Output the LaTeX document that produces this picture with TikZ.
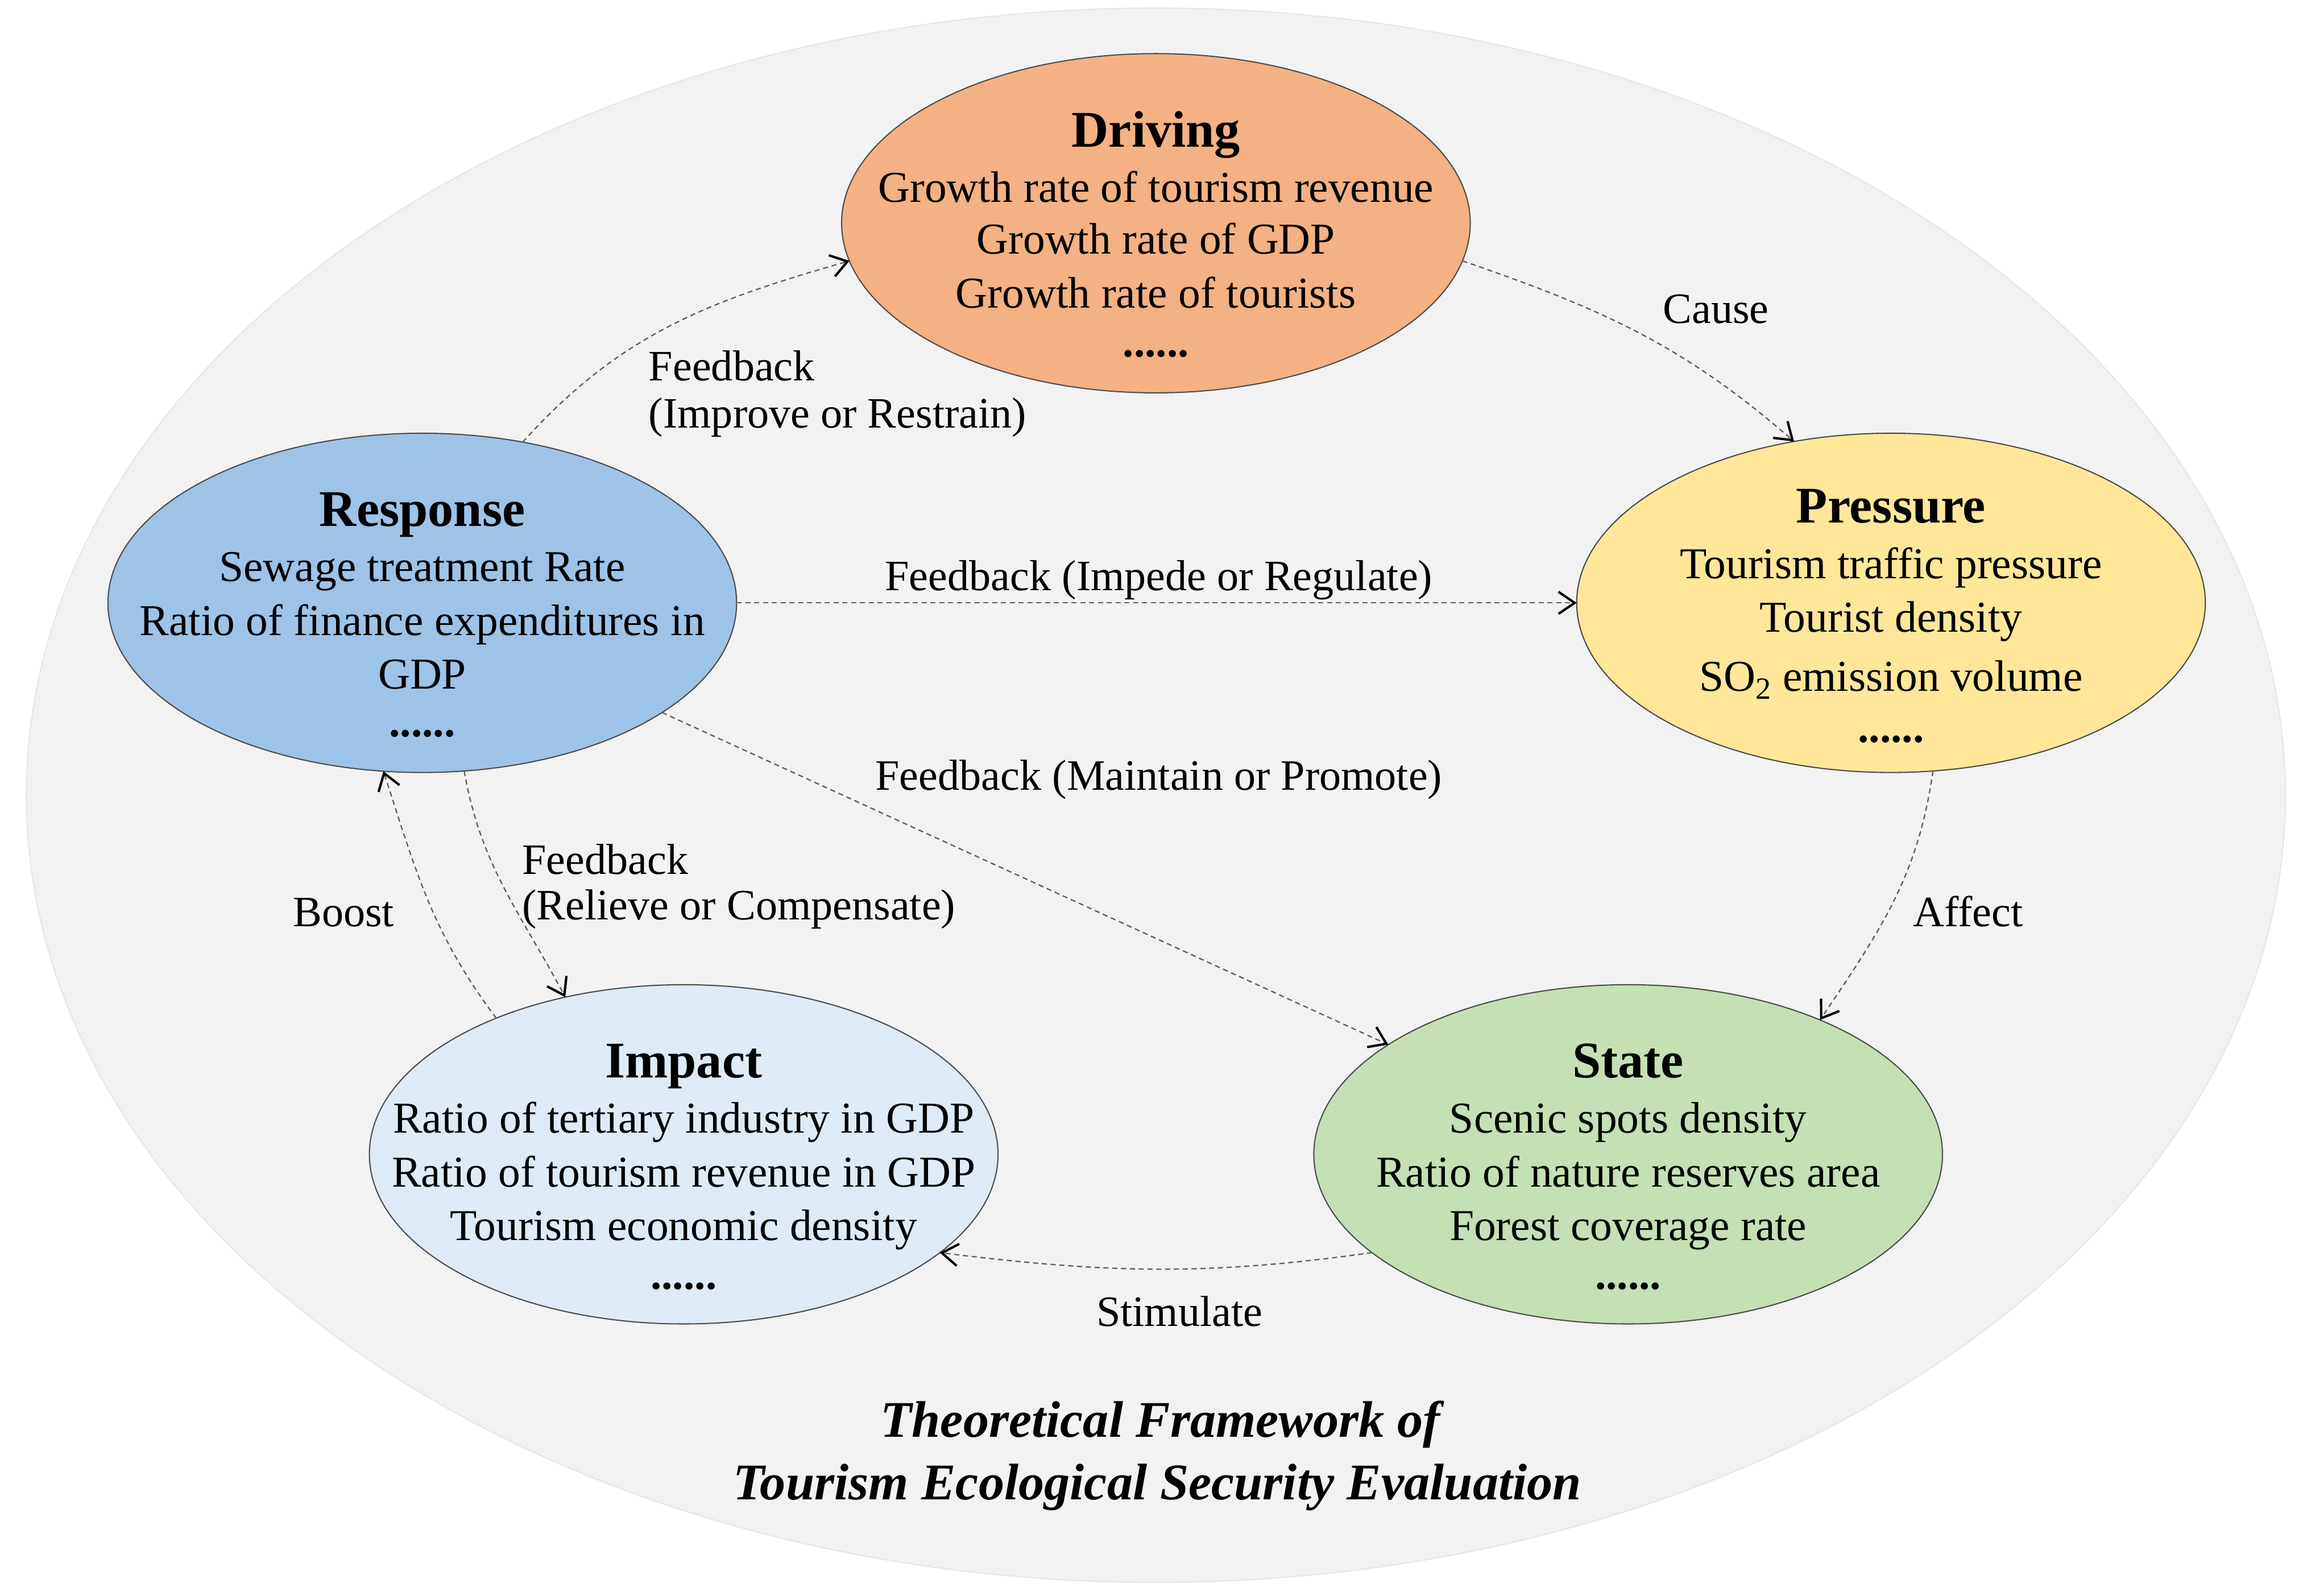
\documentclass[tikz,border=0pt]{standalone}
\usepackage{fontspec}
\setmainfont{Liberation Serif}
\usetikzlibrary{arrows.meta,shapes.geometric}
\definecolor{bgfill}{RGB}{242,242,242}
\definecolor{bgline}{RGB}{230,230,230}
\definecolor{drvfill}{RGB}{244,177,131}
\definecolor{resfill}{RGB}{157,195,230}
\definecolor{prsfill}{RGB}{255,230,153}
\definecolor{impfill}{RGB}{222,235,247}
\definecolor{stafill}{RGB}{197,224,180}
\begin{document}
\begin{tikzpicture}[x=1pt,y=-1pt,
  oval/.style={ellipse, draw=black!70, line width=0.8pt, minimum width=428pt, minimum height=231pt, inner sep=0pt, outer sep=0pt},
  head/.style={anchor=base, inner sep=0pt, font=\fontsize{35}{42}\selectfont\bfseries},
  item/.style={anchor=base, inner sep=0pt, font=\fontsize{30}{36}\selectfont},
  dots/.style={anchor=base, inner sep=0pt, font=\fontsize{30}{36}\selectfont\bfseries},
  lbl/.style={inner sep=0pt, font=\fontsize{29.5}{32}\selectfont},
  ttl/.style={anchor=base, inner sep=0pt, font=\fontsize{35}{42}\selectfont\bfseries\itshape},
  flow/.style={draw=black!62, line width=0.9pt, dash pattern=on 3.5pt off 2.5pt,
    -{Straight Barb[length=11pt,width=15pt,line width=1.6pt,color=black]}}]
\useasboundingbox (0,0) rectangle (1568,1086.4);
\fill[white] (0,0) rectangle (1568,1086.4);
% frame
\node[ellipse, fill=bgfill, draw=bgline, line width=0.8pt, minimum width=1538pt, minimum height=1072pt, inner sep=0pt] (frame) at (787,541.5) {};
% ellipses
\node[oval, fill=drvfill] (drv) at (787,152) {};
\node[oval, fill=resfill] (res) at (287.5,410.5) {};
\node[oval, fill=prsfill] (prs) at (1287.5,410.5) {};
\node[oval, fill=impfill] (imp) at (465.5,786) {};
\node[oval, fill=stafill] (sta) at (1108.5,786) {};
% Driving
\node[head] (drv-h) at (787,100) {Driving};
\node[item] (drv-1) at (787,137.5) {Growth rate of tourism revenue};
\node[item] (drv-2) at (787,173) {Growth rate of GDP};
\node[item] (drv-3) at (787,209.5) {Growth rate of tourists};
\node[dots] (drv-d) at (787,243) {......};
% Response
\node[head] (res-h) at (287.5,358.5) {Response};
\node[item] (res-1) at (287.5,396) {Sewage treatment Rate};
\node[item] (res-2) at (287.5,432.5) {Ratio of finance expenditures in};
\node[item] (res-3) at (287.5,469) {GDP};
\node[dots] (res-d) at (287.5,501.5) {......};
% Pressure
\node[head] (prs-h) at (1287.5,356) {Pressure};
\node[item] (prs-1) at (1287.5,394) {Tourism traffic pressure};
\node[item] (prs-2) at (1287.5,430.5) {Tourist density};
\node[item] (prs-3) at (1287.5,470.5) {SO\textsubscript{2} emission volume};
\node[dots] (prs-d) at (1287.5,505.5) {......};
% Impact
\node[head] (imp-h) at (465.5,734) {Impact};
\node[item] (imp-1) at (465.5,771.5) {Ratio of tertiary industry in GDP};
\node[item] (imp-2) at (465.5,808) {Ratio of tourism revenue in GDP};
\node[item] (imp-3) at (465.5,844.5) {Tourism economic density};
\node[dots] (imp-d) at (465.5,878) {......};
% State
\node[head] (sta-h) at (1108.5,734) {State};
\node[item] (sta-1) at (1108.5,771.5) {Scenic spots density};
\node[item] (sta-2) at (1108.5,808) {Ratio of nature reserves area};
\node[item] (sta-3) at (1108.5,844.5) {Forest coverage rate};
\node[dots] (sta-d) at (1108.5,878) {......};
% connectors
\draw[flow] (res.58.8) to[out=48,in=196] (drv.187);
\draw[flow] (drv.-7) to[out=-19,in=139] (prs.121.5);
\draw[flow] (res.east) -- (prs.west);
\draw[flow] (res) -- (sta);
\draw[flow] (prs.-76.7) to[out=-98,in=56] (sta.35.3);
\draw[flow] (res.-76.3) to[out=-80,in=118] (imp.127.2);
\draw[flow] (imp.144.9) to[out=127,in=-72] (res.-103);
\draw[flow] (sta.201.5) to[out=188,in=-7] (imp.-21.3);
% labels
\node[lbl, anchor=base west] (l-imp1) at (441.5,259.3) {Feedback};
\node[lbl, anchor=base west] (l-imp2) at (441.5,291.5) {(Improve or Restrain)};
\node[lbl, anchor=base west] (l-cause) at (1132,220) {Cause};
\node[lbl, anchor=base] (l-reg) at (789,402) {Feedback (Impede or Regulate)};
\node[lbl, anchor=base] (l-pro) at (789,538) {Feedback (Maintain or Promote)};
\node[lbl, anchor=base west] (l-rel1) at (355.4,595.4) {Feedback};
\node[lbl, anchor=base west] (l-rel2) at (355.4,626.4) {(Relieve or Compensate)};
\node[lbl, anchor=base west] (l-boost) at (199.3,631) {Boost};
\node[lbl, anchor=base west] (l-affect) at (1302.2,631) {Affect};
\node[lbl, anchor=base] (l-stim) at (803,903) {Stimulate};
% title
\node[ttl] (t-1) at (790,978.7) {Theoretical Framework of};
\node[ttl] (t-2) at (788,1021) {Tourism Ecological Security Evaluation};
\end{tikzpicture}
\end{document}
